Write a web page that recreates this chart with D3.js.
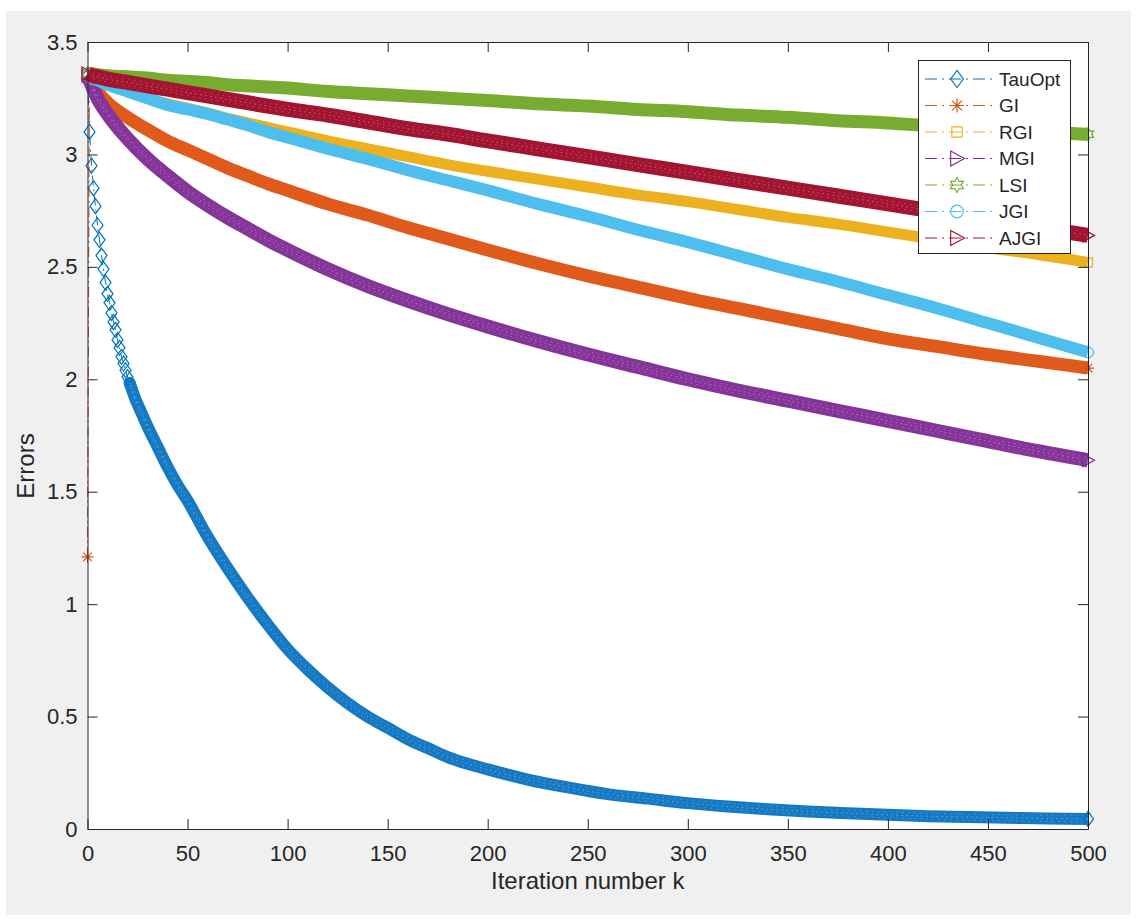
<!DOCTYPE html>
<html><head><meta charset="utf-8">
<script src="https://cdn.jsdelivr.net/npm/d3@7"></script>
<style>body{margin:0;background:#fff;} svg{display:block;}</style>
</head><body>
<svg id="chart" width="1141" height="919"></svg>
<script>
// ---------------- DATA ----------------
const seriesNames = ["TauOpt", "GI", "RGI", "MGI", "LSI", "JGI", "AJGI"];

// TauOpt: iteration numbers and errors
const iterTauOpt = [0,1,2,3,4,5,6,7,8,9,10,11,12,13,14,15,16,17,18,19,20,21,22,23,24,25,26,27,28,29,30,35,40,45,50,60,70,80,90,100,110,120,130,140,150,160,170,180,190,200,220,240,260,280,300,320,340,360,380,400,420,440,460,480,500];
const errTauOpt = [3.35,3.10,2.95,2.85,2.77,2.685,2.62,2.55,2.49,2.43,2.38,2.34,2.295,2.255,2.22,2.175,2.14,2.10,2.07,2.04,2.01,1.985,1.96,1.935,1.91,1.89,1.87,1.85,1.83,1.81,1.79,1.70,1.61,1.53,1.46,1.30,1.16,1.03,0.91,0.80,0.71,0.63,0.56,0.50,0.45,0.40,0.36,0.32,0.29,0.265,0.22,0.185,0.155,0.135,0.115,0.10,0.088,0.078,0.07,0.063,0.057,0.053,0.05,0.047,0.045];

// shared iteration grid for the other methods
const iterGrid = [0,1,5,10,20,30,40,50,60,70,80,90,100,120,140,160,180,200,225,250,275,300,325,350,375,400,425,450,475,500];
const errGI   = [1.21,3.33,3.28,3.23,3.165,3.11,3.06,3.02,2.98,2.94,2.905,2.87,2.84,2.78,2.73,2.675,2.625,2.575,2.515,2.46,2.41,2.36,2.315,2.27,2.225,2.18,2.145,2.11,2.08,2.05];
const errRGI  = [3.35,3.345,3.33,3.31,3.28,3.25,3.225,3.205,3.185,3.16,3.14,3.12,3.10,3.06,3.025,2.99,2.955,2.925,2.89,2.855,2.82,2.79,2.755,2.72,2.69,2.655,2.62,2.585,2.555,2.52];
const errMGI  = [3.35,3.33,3.25,3.18,3.07,2.98,2.905,2.835,2.775,2.72,2.67,2.62,2.575,2.49,2.415,2.35,2.29,2.235,2.17,2.11,2.055,2.0,1.95,1.905,1.86,1.815,1.77,1.725,1.68,1.64];
const errLSI  = [3.36,3.36,3.355,3.35,3.345,3.34,3.33,3.325,3.32,3.31,3.305,3.30,3.295,3.28,3.27,3.26,3.25,3.24,3.225,3.215,3.20,3.19,3.175,3.165,3.15,3.14,3.125,3.115,3.10,3.09];
const errJGI  = [3.35,3.345,3.33,3.31,3.28,3.25,3.22,3.20,3.18,3.155,3.13,3.10,3.075,3.025,2.98,2.93,2.885,2.84,2.78,2.725,2.665,2.61,2.55,2.49,2.435,2.375,2.315,2.25,2.185,2.12];
const errAJGI = [3.36,3.355,3.345,3.335,3.32,3.305,3.29,3.275,3.26,3.245,3.23,3.215,3.20,3.175,3.145,3.115,3.09,3.06,3.025,2.99,2.955,2.92,2.885,2.85,2.815,2.78,2.745,2.71,2.675,2.64];

const xTicks = [0,50,100,150,200,250,300,350,400,450,500];
const yTicks = [0,0.5,1,1.5,2,2.5,3,3.5];
const xLabel = "Iteration number k";
const yLabel = "Errors";

// ---------------- STYLE ----------------
const colors = ["#0072BD","#D95319","#EDB120","#7E2F8E","#77AC30","#4DBEEE","#A2142F"];
const bandColors = ["#1579c4","#e05a1c","#EDB120","#85359a","#77AC30","#4DBEEE","#A2142F"];
const markers = ["diamond","asterisk","square","triRight","hexagram","circle","triRight"];
const bandWidth = [12,13,11,14,13,12,15];
const bandFromIter = [21,1,0,0,0,0,0];
const textured = [true,false,false,true,false,false,true];

const series = [
  {iters: iterTauOpt, errs: errTauOpt},
  {iters: iterGrid, errs: errGI},
  {iters: iterGrid, errs: errRGI},
  {iters: iterGrid, errs: errMGI},
  {iters: iterGrid, errs: errLSI},
  {iters: iterGrid, errs: errJGI},
  {iters: iterGrid, errs: errAJGI}
].map((s,i)=>({name: seriesNames[i], points: s.iters.map((k,j)=>({k, v: s.errs[j]}))}));

function markerPath(type){
  const p = d3.path();
  if(type==="diamond"){ p.moveTo(0,-7.5); p.lineTo(5.5,0); p.lineTo(0,7.5); p.lineTo(-5.5,0); p.closePath(); }
  else if(type==="square"){ p.rect(-4.5,-4.5,9,9); }
  else if(type==="triRight"){ p.moveTo(-5.5,-6.5); p.lineTo(6.5,0); p.lineTo(-5.5,6.5); p.closePath(); }
  else if(type==="circle"){ p.moveTo(5.5,0); p.arc(0,0,5.5,0,2*Math.PI); }
  else if(type==="asterisk"){
    const r=6, d=r*0.7071;
    p.moveTo(-r,0); p.lineTo(r,0); p.moveTo(0,-r); p.lineTo(0,r);
    p.moveTo(-d,-d); p.lineTo(d,d); p.moveTo(-d,d); p.lineTo(d,-d);
  }
  else if(type==="hexagram"){
    const R=6.5, r=3.6;
    for(let i=0;i<12;i++){
      const a = -Math.PI/2 + i*Math.PI/6;
      const rr = i%2===0?R:r;
      if(i===0) p.moveTo(rr*Math.cos(a), rr*Math.sin(a)); else p.lineTo(rr*Math.cos(a), rr*Math.sin(a));
    }
    p.closePath();
  }
  return p.toString();
}

// ---------------- CHART ----------------
const FONT = "'Liberation Sans', Arial, Helvetica, sans-serif";
const TXT = "#262626";
const svg = d3.select("#chart");
svg.append("rect").attr("x",6).attr("y",11).attr("width",1125).attr("height",904).attr("fill","#f0f0f0");

const x = d3.scaleLinear().domain([0,500]).range([87.5,1088]);
const y = d3.scaleLinear().domain([0,3.5]).range([829,42]);

svg.append("rect").attr("x",x(0)).attr("y",y(3.5)).attr("width",x(500)-x(0)).attr("height",y(0)-y(3.5)).attr("fill","#ffffff");

const lineThin = d3.line().x(d=>x(d.k)).y(d=>y(d.v));
const lineBand = d3.line().x(d=>x(d.k)).y(d=>y(d.v)).curve(d3.curveMonotoneX);

const gData = svg.append("g");
series.forEach((s,i)=>{
  const g = gData.append("g");
  const bandPts = s.points.filter(d=>d.k>=bandFromIter[i]);
  const last = s.points[s.points.length-1];
  g.append("path").attr("d", lineThin(s.points)).attr("fill","none")
    .attr("stroke", colors[i]).attr("stroke-width",1).attr("stroke-dasharray","10,4,2,4");
  g.append("path").attr("d", lineBand(bandPts)).attr("fill","none")
    .attr("stroke", bandColors[i]).attr("stroke-width", bandWidth[i])
    .attr("stroke-linejoin","round").attr("stroke-linecap","butt");
  if(bandFromIter[i]>1){
    // rounded start where the separate markers merge into a band
    g.append("circle").attr("cx", x(bandPts[0].k)).attr("cy", y(bandPts[0].v))
      .attr("r", bandWidth[i]/2).attr("fill", bandColors[i]);
  }
  if(textured[i]){
    [-3,0,3].forEach(off=>{
      g.append("path").attr("d", lineBand(bandPts)).attr("fill","none")
        .attr("transform",`translate(0,${off})`)
        .attr("stroke","#ffffff").attr("stroke-opacity",0.35).attr("stroke-width",1)
        .attr("stroke-dasharray", off===0 ? "1.5,3.5" : "1,5");
    });
  }
  const mk = s.points.filter(d=>d.k<bandFromIter[i] || d===last || d.k===0);
  g.selectAll("path.mk").data(mk).join("path").attr("class","mk")
    .attr("d", markerPath(markers[i]))
    .attr("transform", d=>`translate(${x(d.k)},${y(d.v)})`)
    .attr("fill","none").attr("stroke", colors[i]).attr("stroke-width",1.2);
});

// axes
function styleAxis(g){
  g.selectAll("path.domain").attr("stroke",TXT).attr("stroke-width",1);
  g.selectAll(".tick line").attr("stroke",TXT);
  g.selectAll(".tick text").attr("fill",TXT).attr("font-family",FONT).attr("font-size",22);
}
svg.append("g").attr("transform",`translate(0,${y(0)})`)
  .call(d3.axisBottom(x).tickValues(xTicks).tickSizeInner(-10).tickSizeOuter(0).tickPadding(16).tickFormat(d3.format("d")))
  .call(styleAxis);
svg.append("g").attr("transform",`translate(${x(0)},0)`)
  .call(d3.axisLeft(y).tickValues(yTicks).tickSizeInner(-10).tickSizeOuter(0).tickPadding(10).tickFormat(d=>String(d)))
  .call(styleAxis);
svg.append("g").attr("transform",`translate(0,${y(3.5)})`)
  .call(d3.axisTop(x).tickValues(xTicks).tickSizeInner(-10).tickSizeOuter(0).tickFormat(""))
  .call(styleAxis);
svg.append("g").attr("transform",`translate(${x(500)},0)`)
  .call(d3.axisRight(y).tickValues(yTicks).tickSizeInner(-10).tickSizeOuter(0).tickFormat(""))
  .call(styleAxis);

svg.append("text").attr("x",(x(0)+x(500))/2).attr("y",889).attr("text-anchor","middle")
  .attr("font-family",FONT).attr("font-size",24).attr("fill",TXT).text(xLabel);
svg.append("text").attr("transform","translate(34,466) rotate(-90)").attr("text-anchor","middle")
  .attr("font-family",FONT).attr("font-size",24).attr("fill",TXT).text(yLabel);

// legend
const lg = svg.append("g");
lg.append("rect").attr("x",918.5).attr("y",60.5).attr("width",152).attr("height",193)
  .attr("fill","#ffffff").attr("stroke",TXT).attr("stroke-width",1);
seriesNames.forEach((n,i)=>{
  const cy = 79 + i*26.5;
  lg.append("line").attr("x1",925).attr("x2",996).attr("y1",cy).attr("y2",cy)
    .attr("stroke",colors[i]).attr("stroke-width",1).attr("stroke-dasharray","12,5,2,5");
  lg.append("path").attr("d",markerPath(markers[i])).attr("transform",`translate(957,${cy}) scale(1.15)`)
    .attr("fill","none").attr("stroke",colors[i]).attr("stroke-width",1);
  lg.append("text").attr("x",999).attr("y",cy).attr("dy","0.35em")
    .attr("font-family",FONT).attr("font-size",19).attr("fill",TXT).text(n);
});
</script>
</body></html>
